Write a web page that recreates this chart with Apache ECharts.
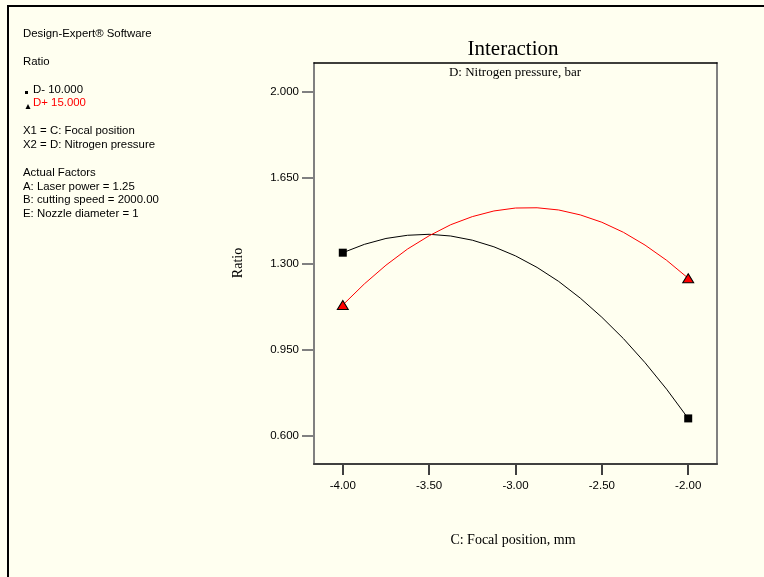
<!DOCTYPE html>
<html>
<head>
<meta charset="utf-8">
<script src="https://cdn.jsdelivr.net/npm/echarts@6/dist/echarts.min.js"></script>
<style>
html,body{margin:0;padding:0;background:#FFFFF0;}
#c{width:764px;height:577px;}
</style>
</head>
<body>
<div id="c"></div>
<script>
// Focal position (C), mm
var focalPos = [-4.000, -3.875, -3.750, -3.625, -3.500, -3.375, -3.250, -3.125, -3.000,
                -2.875, -2.750, -2.625, -2.500, -2.375, -2.250, -2.125, -2.000];
// Ratio, D- (10.000 bar)
var ratioDminus = [1.344, 1.378, 1.402, 1.415, 1.419, 1.412, 1.395, 1.368, 1.331,
                   1.284, 1.227, 1.159, 1.081, 0.994, 0.896, 0.788, 0.669];
// Ratio, D+ (15.000 bar)
var ratioDplus = [1.131, 1.217, 1.293, 1.359, 1.413, 1.458, 1.491, 1.514, 1.526,
                  1.527, 1.518, 1.498, 1.468, 1.427, 1.375, 1.313, 1.240];
var xTicks = [-4.00, -3.50, -3.00, -2.50, -2.00];
var yTicks = [0.600, 0.950, 1.300, 1.650, 2.000];
var xRange = [-4.1667, -1.8333];
var yRange = [0.4833, 2.1167];

var infoLines = [
  {t: 'Design-Expert\u00ae Software', y: 34},
  {t: 'Ratio', y: 62},
  {t: 'X1 = C: Focal position', y: 131},
  {t: 'X2 = D: Nitrogen pressure', y: 145},
  {t: 'Actual Factors', y: 173},
  {t: 'A: Laser power = 1.25', y: 187},
  {t: 'B: cutting speed = 2000.00', y: 200},
  {t: 'E: Nozzle diameter = 1', y: 214}
];

function pairs(xs, ys){ return xs.map(function(x,i){ return [x, ys[i]]; }); }
function ends(xs, ys){ var n = xs.length - 1; return [[xs[0], ys[0]], [xs[n], ys[n]]]; }

var chart = echarts.init(document.getElementById('c'), null, {renderer: 'canvas'});
var sans = 'Liberation Sans, Arial, sans-serif';
var serif = 'Liberation Serif, Times New Roman, serif';
var infoFont = '11.4px ' + sans;

var graphics = [
  {type: 'line', shape: {x1: 7, y1: 6, x2: 764, y2: 6}, style: {stroke: '#000', lineWidth: 2}},
  {type: 'line', shape: {x1: 8, y1: 5, x2: 8, y2: 577}, style: {stroke: '#000', lineWidth: 2}},
  {type: 'text', style: {x: 513, y: 49, text: 'Interaction', font: '21px ' + serif, fill: '#000', textAlign: 'center', textVerticalAlign: 'middle'}},
  {type: 'text', style: {x: 515, y: 73, text: 'D: Nitrogen pressure, bar', font: '13px ' + serif, fill: '#000', textAlign: 'center', textVerticalAlign: 'middle'}},
  {type: 'text', style: {x: 513, y: 540, text: 'C: Focal position, mm', font: '14px ' + serif, fill: '#000', textAlign: 'center', textVerticalAlign: 'middle'}},
  {type: 'text', rotation: Math.PI / 2, x: 238, y: 263, style: {x: 0, y: 0, text: 'Ratio', font: '14px ' + serif, fill: '#000', textAlign: 'center', textVerticalAlign: 'middle'}},
  {type: 'text', style: {x: 33, y: 90, text: 'D- 10.000', font: infoFont, fill: '#000', textVerticalAlign: 'middle'}},
  {type: 'text', style: {x: 33, y: 103, text: 'D+ 15.000', font: infoFont, fill: '#FF0000', textVerticalAlign: 'middle'}},
  {type: 'rect', shape: {x: 25, y: 91, width: 3, height: 3}, style: {fill: '#000'}},
  {type: 'polygon', shape: {points: [[28, 104], [25.5, 109], [30.5, 109]]}, style: {fill: '#000'}}
];
infoLines.forEach(function(l){
  graphics.push({type: 'text', style: {x: 23, y: l.y, text: l.t, font: infoFont, fill: '#000', textVerticalAlign: 'middle'}});
});

var tickLabelStyle = {fontFamily: sans, fontSize: 11.5, color: '#000'};

chart.setOption({
  backgroundColor: '#FFFFF0',
  animation: false,
  grid: {left: 314, top: 63, width: 403, height: 401, containLabel: false, show: false},
  xAxis: [
    {type: 'value', min: xRange[0], max: xRange[1], position: 'bottom',
     axisLine: {show: true, onZero: false, lineStyle: {color: '#404040', width: 2}},
     axisTick: {show: true, length: 11, customValues: xTicks, lineStyle: {color: '#404040', width: 2}},
     axisLabel: Object.assign({margin: 16, customValues: xTicks, formatter: function(v){ return v.toFixed(2); }}, tickLabelStyle),
     splitLine: {show: false}},
    {type: 'value', min: xRange[0], max: xRange[1], position: 'top',
     axisLine: {show: true, onZero: false, lineStyle: {color: '#000', width: 1.5}},
     axisTick: {show: false}, axisLabel: {show: false}, splitLine: {show: false}}
  ],
  yAxis: [
    {type: 'value', min: yRange[0], max: yRange[1], position: 'left',
     axisLine: {show: true, onZero: false, lineStyle: {color: '#808080', width: 2}},
     axisTick: {show: true, length: 12, customValues: yTicks, lineStyle: {color: '#808080', width: 2}},
     axisLabel: Object.assign({margin: 15, customValues: yTicks, formatter: function(v){ return v.toFixed(3); }}, tickLabelStyle),
     splitLine: {show: false}},
    {type: 'value', min: yRange[0], max: yRange[1], position: 'right',
     axisLine: {show: true, onZero: false, lineStyle: {color: '#808080', width: 2}},
     axisTick: {show: false}, axisLabel: {show: false}, splitLine: {show: false}}
  ],
  series: [
    {type: 'line', data: pairs(focalPos, ratioDminus), smooth: false, symbol: 'none',
     lineStyle: {color: '#000', width: 1}, z: 2},
    {type: 'line', data: pairs(focalPos, ratioDplus), smooth: false, symbol: 'none',
     lineStyle: {color: '#FF0000', width: 1}, z: 2},
    {type: 'scatter', data: ends(focalPos, ratioDminus), symbol: 'rect', symbolSize: 8,
     itemStyle: {color: '#000', opacity: 1}, z: 3},
    {type: 'scatter', data: ends(focalPos, ratioDplus), symbol: 'triangle', symbolSize: [11, 9],
     itemStyle: {color: '#FF0000', borderColor: '#000', borderWidth: 1, opacity: 1}, z: 3}
  ],
  graphic: graphics
});
</script>
</body>
</html>
